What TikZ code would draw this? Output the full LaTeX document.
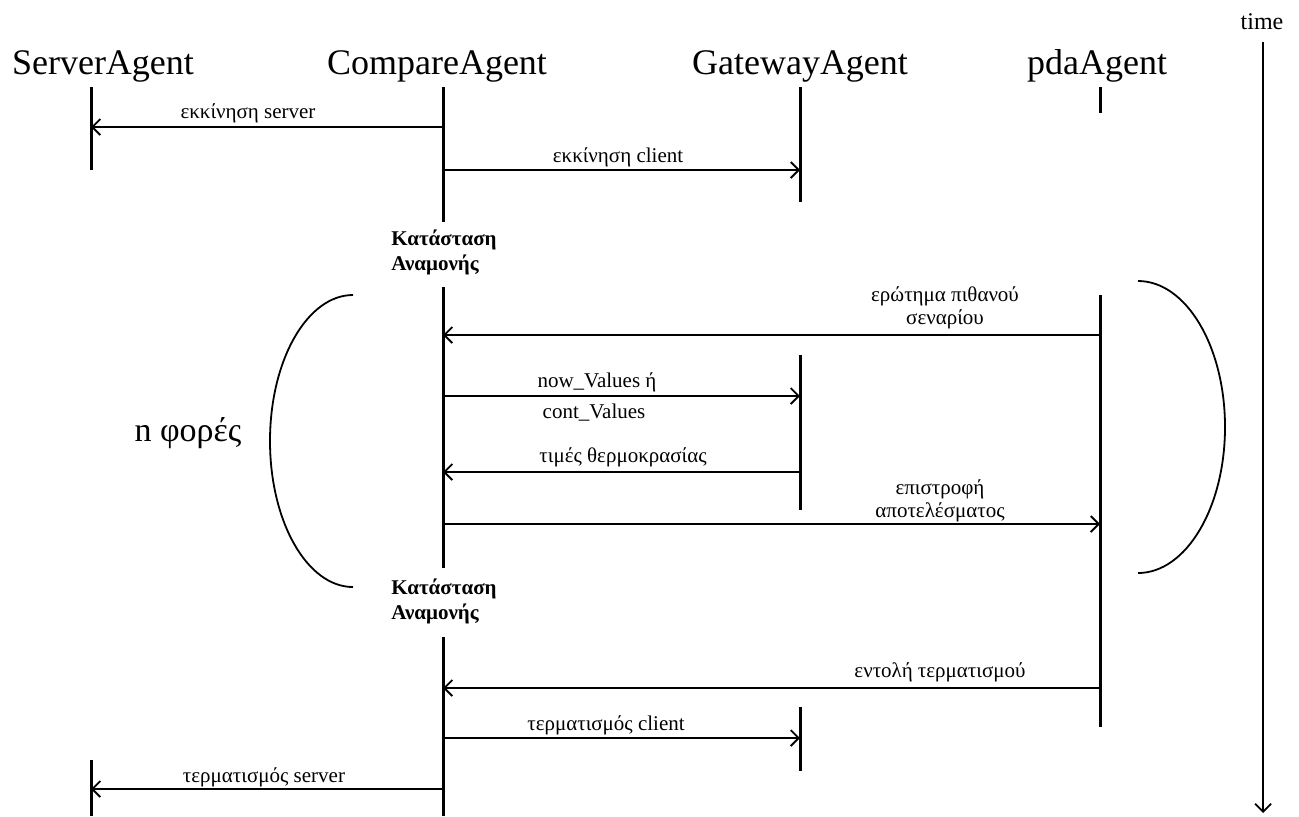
\documentclass[tikz,border=0pt]{standalone}
\usepackage{fontspec}
\setmainfont{Liberation Serif}
\usetikzlibrary{arrows.meta}

\begin{document}
\begin{tikzpicture}[x=0.5pt,y=-0.5pt, line join=round, >={Straight Barb[length=4pt,width=8pt]},
	life/.style={line width=1.5pt},
	msg/.style={line width=0.9pt,->},
	brk/.style={line width=0.9pt},
	agent/.style={font=\fontsize{18}{20}\selectfont,anchor=base,inner sep=0pt},
	lbl/.style={font=\fontsize{10.5}{11.5}\selectfont,align=center,inner sep=0pt},
	wait/.style={font=\fontsize{10.5}{12.5}\selectfont\bfseries,align=left,anchor=west,inner sep=0pt}]
			\useasboundingbox (0,0) rectangle (1299,816);
			\path 
			(91,87) coordinate (S) (91,170) coordinate (S1)
			(91,760) coordinate (S2) (91,816) coordinate (S3)
			(443,87) coordinate (C) (443,222) coordinate (C1)
			(443,287) coordinate (C2) (443,568) coordinate (C3)
			(443,637) coordinate (C4) (443,816) coordinate (C5)
			(800,87) coordinate (G) (800,202) coordinate (G1)
			(800,355) coordinate (G2) (800,510) coordinate (G3)
			(800,707) coordinate (G4) (800,771) coordinate (G5)
			(1100,87) coordinate (P) (1100,113) coordinate (P1)
			(1100,295) coordinate (P2) (1100,727) coordinate (P3)
			(1263,42) coordinate (T) (1263,813) coordinate (T1)
			(0,127) coordinate (r1) (0,170) coordinate (r2)
			(0,335) coordinate (r3) (0,396) coordinate (r4)
			(0,472) coordinate (r5) (0,524) coordinate (r6)
			(0,688) coordinate (r7) (0,738) coordinate (r8)
			(0,789) coordinate (r9)
			;
			% agents
			\node[agent] (srv) at (103,74) {ServerAgent};
			\node[agent] (cmp) at (437,74) {CompareAgent};
			\node[agent] (gtw) at (800,74) {GatewayAgent};
			\node[agent] (pda) at (1097,74) {pdaAgent};
			\node[font=\fontsize{12}{14}\selectfont,inner sep=0pt] (time) at (1262,22) {time};
			% lifelines
			\foreach \a/\b in {S/S1,S2/S3,C/C1,C2/C3,C4/C5,G/G1,G2/G3,G4/G5,P/P1,P2/P3}
			\draw[life] (\a)--(\b);
			\draw[brk,->] (T)--(T1);
			% messages
			\foreach \a/\b/\r in {C/S/r1,C/G/r2,P/C/r3,C/G/r4,G/C/r5,C/P/r6,P/C/r7,C/G/r8,C/S/r9}
			\draw[msg] (\a|-\r)--(\b|-\r);
			\node[lbl] (l1) at (248,113) {εκκίνηση server};
			\node[lbl] (l2) at (618,157) {εκκίνηση client};
			\node[lbl] (l3) at (945,308) {ερώτημα πιθανού\\σεναρίου};
			\node[lbl] (l4) at (597,382) {now\_Values ή};
			\node[lbl] (l4b) at (594,413) {cont\_Values};
			\node[lbl] (l5) at (623,457) {τιμές θερμοκρασίας};
			\node[lbl] (l6) at (940,501) {επιστροφή\\αποτελέσματος};
			\node[lbl] (l7) at (940,672) {εντολή τερματισμού};
			\node[lbl] (l8) at (606,725) {τερματισμός client};
			\node[lbl] (l9) at (264,777) {τερματισμός server};
			\node[wait] (w1) at (391,252) {Κατάσταση\\Αναμονής};
			\node[wait] (w2) at (391,601) {Κατάσταση\\Αναμονής};
			% loop
			\draw[brk] (353,295) arc[start angle=270,end angle=90,x radius=83,y radius=146];
			\draw[brk] (1138,281) arc[start angle=-90,end angle=90,x radius=87,y radius=146];
			\node[font=\fontsize{17}{19}\selectfont,inner sep=0pt] (nt) at (188,433) {n φορές};
			\end{tikzpicture}
\end{document}
